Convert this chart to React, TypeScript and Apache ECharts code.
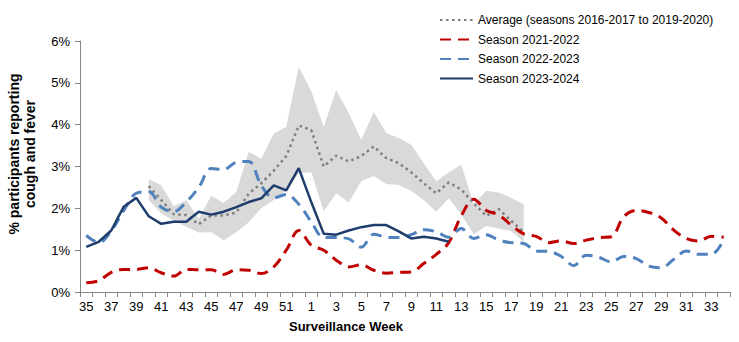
import React, { useEffect, useRef } from "react";
import * as echarts from "echarts";

const weeks = [
  "35", "36", "37", "38", "39", "40", "41", "42", "43", "44", "45", "46", "47", "48", "49", "50", "51", "52",
  "1", "2", "3", "4", "5", "6", "7", "8", "9", "10", "11", "12", "13", "14", "15", "16", "17", "18", "19", "20",
  "21", "22", "23", "24", "25", "26", "27", "28", "29", "30", "31", "32", "33", "34",
];

const season2122 = [
  0.22, 0.27, 0.47, 0.54, 0.54, 0.58, 0.46, 0.38, 0.54, 0.53, 0.53, 0.42, 0.53, 0.52, 0.44, 0.6, 1.0, 1.47,
  1.12, 1.0, 0.76, 0.6, 0.65, 0.52, 0.45, 0.47, 0.48, 0.68, 0.9, 1.18, 1.82, 2.22, 1.95, 1.84, 1.6, 1.39, 1.33,
  1.18, 1.22, 1.16, 1.24, 1.3, 1.32, 1.8, 1.95, 1.9, 1.77, 1.48, 1.28, 1.22, 1.33, 1.31,
];

const season2223 = [
  1.35, 1.18, 1.46, 1.95, 2.36, 2.4, 2.03, 1.92, 2.15, 2.5, 2.95, 2.93, 3.1, 3.12, 2.55, 2.25, 2.33, 2.1,
  1.68, 1.3, 1.3, 1.27, 1.07, 1.38, 1.31, 1.3, 1.37, 1.49, 1.44, 1.31, 1.52, 1.28, 1.37, 1.24, 1.18, 1.16, 0.98,
  0.97, 0.85, 0.63, 0.88, 0.83, 0.72, 0.85, 0.8, 0.62, 0.58, 0.78, 0.98, 0.9, 0.9, 1.25,
];

const season2324 = [
  1.08, 1.2, 1.47, 2.04, 2.25, 1.81, 1.63, 1.68, 1.68, 1.92, 1.85, 1.92, 2.03, 2.15, 2.24, 2.55, 2.43, 2.96,
  2.15, 1.39, 1.37, 1.47, 1.55, 1.6, 1.6, 1.45, 1.28, 1.32, 1.28, 1.2,
  null, null, null, null, null, null, null, null, null, null, null, null, null, null, null, null, null, null, null, null, null, null,
];

const avgPre = [null, null, null, null, null];
const avgPost = [null, null, null, null, null, null, null, null, null, null, null, null, null, null, null, null];

const averageValues = [
  2.53, 2.2, 1.86, 1.84, 1.62, 1.83, 1.83, 1.9, 2.35, 2.6, 2.9, 3.25, 3.98,
  3.87, 3.0, 3.26, 3.12, 3.25, 3.48, 3.2, 3.08, 2.86, 2.6, 2.36, 2.62, 2.45, 2.12, 1.82, 1.98, 1.7, 1.43,
];

const bandHigh = [
  2.7, 2.55, 2.05, 2.2, 1.75, 2.3, 2.13, 2.39, 3.35, 3.19, 3.78, 3.95, 5.38,
  4.8, 3.95, 4.83, 4.27, 3.64, 4.3, 3.8, 3.68, 3.52, 3.08, 2.64, 2.86, 3.04, 2.1, 2.42, 2.38, 2.25, 2.1,
];

const bandLow = [
  2.2, 1.88, 1.7, 1.56, 1.42, 1.43, 1.24, 1.43, 1.67, 2.0, 2.2, 2.42, 2.84,
  2.86, 1.93, 2.36, 2.14, 2.65, 2.77, 2.58, 2.56, 2.42, 2.2, 1.92, 2.24, 1.85, 1.38, 1.58, 1.52, 1.45, 1.2,
];

const yTicks = [0, 1, 2, 3, 4, 5, 6];

const legendNames = [
  "Average (seasons 2016-2017 to 2019-2020)",
  "Season 2021-2022",
  "Season 2022-2023",
  "Season 2023-2024",
];

const FONT = "'Liberation Sans', Arial, sans-serif";

export default function App() {
  const ref = useRef<HTMLDivElement>(null);

  useEffect(() => {
    if (!ref.current) return;
    const chart = echarts.init(ref.current, undefined, { renderer: "svg" });

    const average = [...avgPre, ...averageValues, ...avgPost];
    const low = [...avgPre, ...bandLow, ...avgPost];
    const range = [...avgPre, ...bandHigh.map((h, i) => +(h - bandLow[i]).toFixed(3)), ...avgPost];

    chart.setOption({
      animation: false,
      backgroundColor: "#ffffff",
      textStyle: { fontFamily: FONT },
      grid: { left: 80, right: 9, top: 41, bottom: 50, containLabel: false },
      legend: {
        data: legendNames,
        orient: "vertical",
        left: 439,
        top: 14,
        padding: 0,
        itemWidth: 33,
        itemHeight: 14,
        itemGap: 7.5,
        itemStyle: { opacity: 0 },
        textStyle: { fontFamily: FONT, fontSize: 12, color: "#000" },
      },
      xAxis: {
        type: "category",
        data: weeks,
        boundaryGap: true,
        axisLine: { show: true, lineStyle: { color: "#868686", width: 1 } },
        axisTick: { show: true, interval: 0, length: 5, lineStyle: { color: "#868686" } },
        axisLabel: { interval: 1, fontSize: 13, color: "#000", margin: 8, fontFamily: FONT },
        splitLine: { show: false },
      },
      yAxis: {
        type: "value",
        min: yTicks[0],
        max: yTicks[yTicks.length - 1],
        interval: 1,
        axisLine: { show: true, lineStyle: { color: "#868686", width: 1 } },
        axisTick: { show: true, length: 5, lineStyle: { color: "#868686" } },
        axisLabel: { formatter: "{value}%", fontSize: 13, color: "#000", margin: 10, fontFamily: FONT },
        splitLine: { show: false },
      },
      graphic: [
        {
          type: "text",
          left: 289,
          top: 320,
          style: { text: "Surveillance Week", font: "bold 13px " + FONT, fill: "#000" },
        },
        {
          type: "text",
          x: 22,
          y: 154,
          rotation: Math.PI / 2,
          style: {
            text: "% participants reporting\ncough and fever",
            font: "bold 14px " + FONT,
            fill: "#000",
            align: "center",
            verticalAlign: "middle",
            lineHeight: 16,
          },
        },
      ],
      series: [
        {
          name: "bandLow",
          type: "line",
          data: low,
          stack: "band",
          symbol: "none",
          lineStyle: { opacity: 0 },
          silent: true,
          z: 1,
        },
        {
          name: "bandRange",
          type: "line",
          data: range,
          stack: "band",
          symbol: "none",
          lineStyle: { opacity: 0 },
          areaStyle: { color: "#d9d9d9", opacity: 1 },
          silent: true,
          z: 1,
        },
        {
          name: legendNames[0],
          type: "line",
          data: average,
          symbol: "none",
          lineStyle: { color: "#7f7f7f", width: 2.5, type: [2.5, 3.5] },
          itemStyle: { color: "#7f7f7f" },
          z: 3,
        },
        {
          name: legendNames[1],
          type: "line",
          data: season2122,
          symbol: "none",
          smooth: 0.35,
          lineStyle: { color: "#c00000", width: 3, type: [11, 7] },
          itemStyle: { color: "#c00000" },
          z: 4,
        },
        {
          name: legendNames[2],
          type: "line",
          data: season2223,
          symbol: "none",
          smooth: 0.35,
          lineStyle: { color: "#4f81bd", width: 3, type: [11, 7] },
          itemStyle: { color: "#4f81bd" },
          z: 5,
        },
        {
          name: legendNames[3],
          type: "line",
          data: season2324,
          symbol: "none",
          lineStyle: { color: "#1f3d6c", width: 2.5, type: "solid" },
          itemStyle: { color: "#1f3d6c" },
          z: 6,
        },
      ],
    });

    return () => chart.dispose();
  }, []);

  return (
    <div
      ref={ref}
      style={{ position: "absolute", left: 0, top: 0, width: 739, height: 342, background: "#fff" }}
    />
  );
}
